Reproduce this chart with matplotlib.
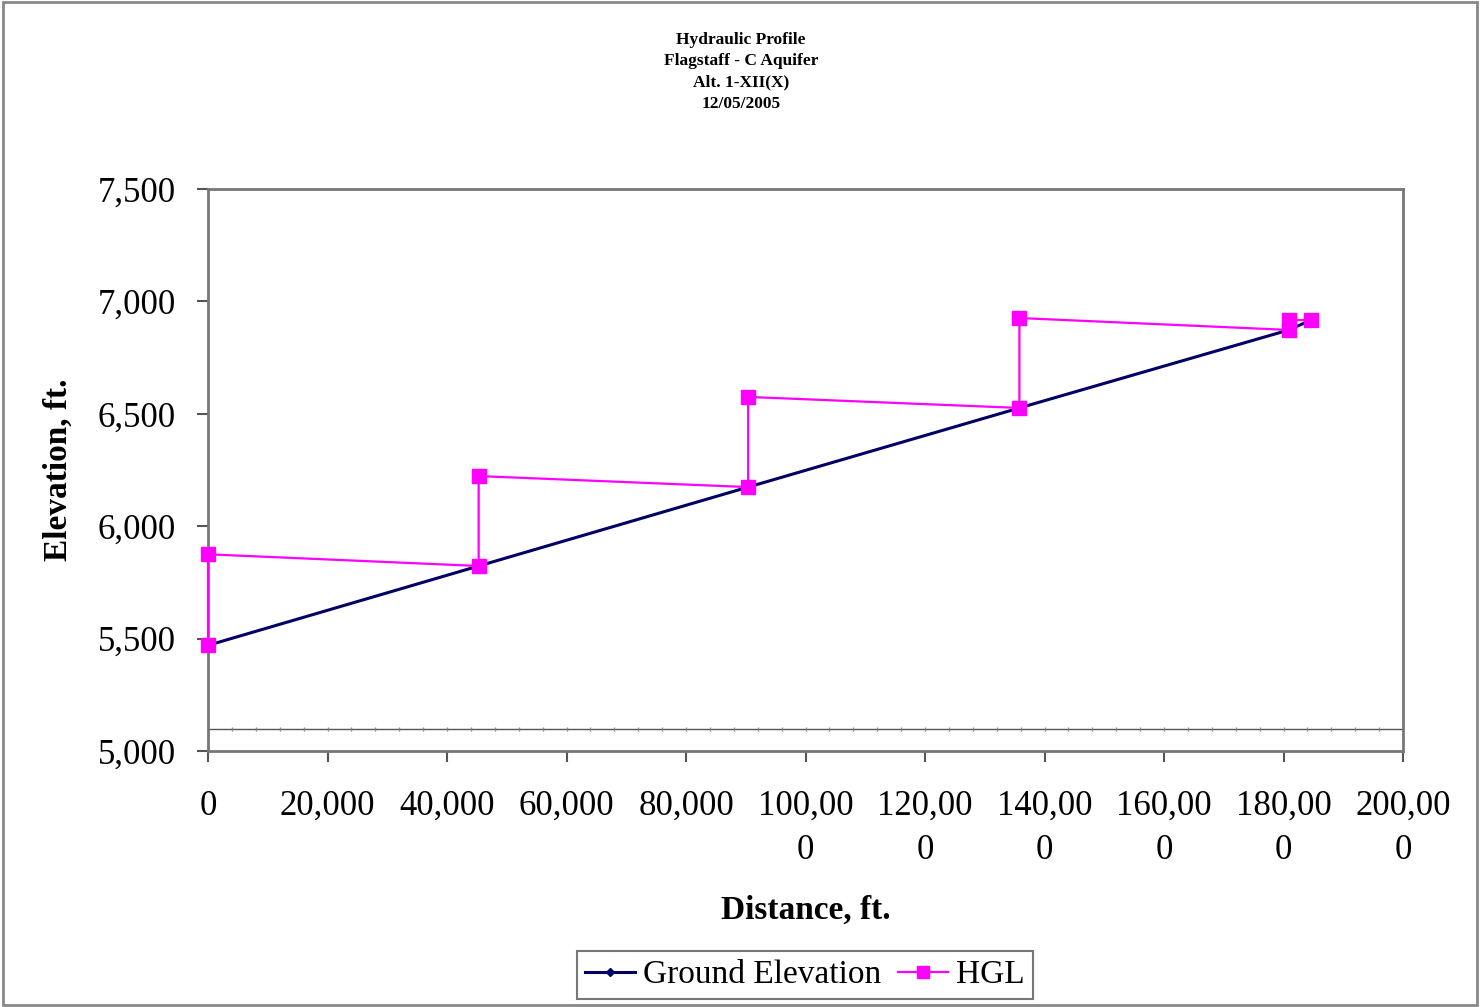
import matplotlib
matplotlib.use("Agg")
import matplotlib.pyplot as plt
from matplotlib.ticker import FuncFormatter
import numpy as np

plt.rcParams["font.family"] = ["Liberation Serif", "DejaVu Serif"]

# ground elevation profile
ground_x = [0, 45300, 90400, 135800, 180900, 184600]
ground_y = [5470, 5823, 6174, 6526, 6873, 6917]

# hydraulic grade line
hgl_x = [0, 0, 45300, 45300, 90400, 90400, 135800, 135800, 180900, 180900, 184600]
hgl_y = [5470, 5875, 5823, 6223, 6174, 6575, 6526, 6926, 6873, 6917, 6917]

base_level = 5100
x_ticks = [0, 20000, 40000, 60000, 80000, 100000, 120000, 140000, 160000, 180000, 200000]
y_ticks = [5000, 5500, 6000, 6500, 7000, 7500]

title_lines = ["Hydraulic Profile", "Flagstaff - C Aquifer", "Alt. 1-XII(X)", "12/05/2005"]


def x_label(v):
    s = f"{int(v):,}"
    if len(s) > 6:
        s = s[:6] + "\n" + s[6:]
    return s


fig = plt.figure(figsize=(14.8, 10.07), dpi=100)
ax = fig.add_axes([208 / 1480, 1 - 751 / 1007, (1403 - 208) / 1480, (751 - 189) / 1007])

ax.plot(ground_x, ground_y, color="#000066", lw=2.2, marker="D", ms=5,
        label="Ground Elevation", zorder=3, clip_on=False)
ax.plot(hgl_x, hgl_y, color="#ff00ff", lw=1.6, marker="s", ms=10,
        label="HGL", zorder=4, clip_on=False)

# baseline with minor tick dots
ax.axhline(base_level, color="#555555", lw=1.0, zorder=1)
dots = np.arange(4000, 200000, 4000)
ax.plot(dots, [base_level] * len(dots), ls="none", marker="|", ms=3,
        color="#888888", zorder=1)

ax.set_xlim(0, 200000)
ax.set_ylim(5000, 7500)
ax.set_xticks(x_ticks)
ax.set_yticks(y_ticks)
ax.xaxis.set_major_formatter(FuncFormatter(lambda v, p: x_label(v)))
ax.yaxis.set_major_formatter(FuncFormatter(lambda v, p: f"{int(v):,}"))
ax.tick_params(axis="both", labelsize=25, direction="out", length=8,
               width=1.5, color="#555555")
ax.tick_params(axis="x", pad=20)
ax.tick_params(axis="y", pad=15)
for lbl in ax.get_xticklabels():
    lbl.set_linespacing(1.45)
for sp in ax.spines.values():
    sp.set_color("#777777")
    sp.set_linewidth(2)

ax.set_xlabel("Distance, ft.", fontsize=24, fontweight="bold", labelpad=20)
ax.set_ylabel("Elevation, ft.", fontsize=24, fontweight="bold", labelpad=17)

fig.text(741 / 1480, 1 - 72 / 1007, "\n".join(title_lines), ha="center",
         va="center", fontsize=12.5, fontweight="bold", linespacing=1.45)

leg = fig.legend(loc="center", bbox_to_anchor=(805 / 1480, 1 - 975 / 1007),
                 ncol=2, fontsize=24, frameon=True, fancybox=False,
                 handlelength=1.5, handletextpad=0.25, columnspacing=0.5,
                 borderpad=0.25, borderaxespad=0.0, markerscale=0.8)
leg.get_frame().set_edgecolor("#555555")
leg.get_frame().set_linewidth(1.5)

# outer border
fig.patches.append(plt.Rectangle((0.002, 0.002), 0.996, 0.996, transform=fig.transFigure,
                                 fill=False, edgecolor="#888888", lw=2))

fig.savefig("out.png", dpi=100)
